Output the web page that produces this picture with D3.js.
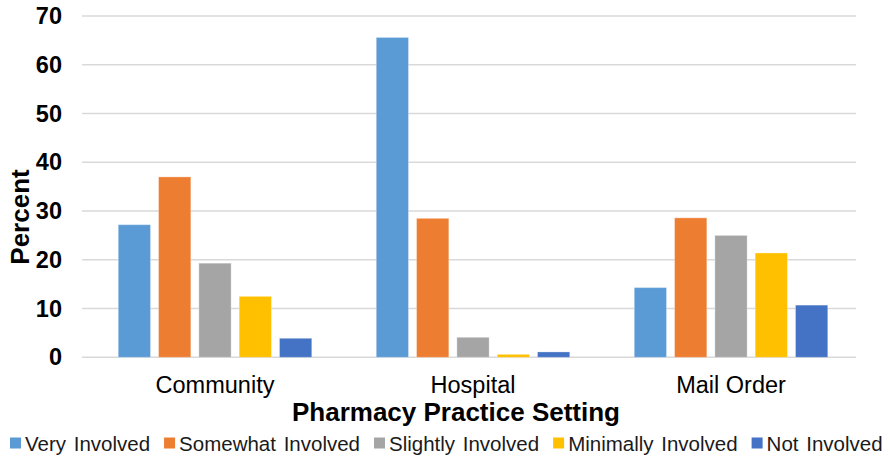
<!DOCTYPE html>
<html>
<head>
<meta charset="utf-8">
<script src="https://cdn.jsdelivr.net/npm/d3@7/dist/d3.min.js"></script>
<style>
  html, body { margin: 0; padding: 0; background: #fff; }
  svg { display: block; font-family: "Liberation Sans", Arial, sans-serif; }
</style>
</head>
<body>
<svg id="chart" width="890" height="457"></svg>
<script>
// Involvement by pharmacy practice setting (percent of respondents)
const categories = ["Community", "Hospital", "Mail Order"];
const series = ["Very Involved", "Somewhat Involved", "Slightly Involved", "Minimally Involved", "Not Involved"];
const colors = ["#5B9BD5", "#ED7D31", "#A5A5A5", "#FFC000", "#4472C4"];
const veryInvolved     = [27.2, 65.6, 14.3];
const somewhatInvolved = [37.0, 28.5, 28.6];
const slightlyInvolved = [19.3, 4.1, 25.0];
const minimallyInvolved = [12.5, 0.6, 21.4];
const notInvolved      = [3.9, 1.1, 10.7];
const yTicks = [0, 10, 20, 30, 40, 50, 60, 70];
const yTitle = "Percent";
const xTitle = "Pharmacy Practice Setting";

const seriesValues = [veryInvolved, somewhatInvolved, slightlyInvolved, minimallyInvolved, notInvolved];
const rows = categories.map((c, i) => ({
  category: c,
  values: series.map((s, j) => ({ key: s, value: seriesValues[j][i], color: colors[j] }))
}));

const svg = d3.select("#chart");
const plotLeft = 86, plotRight = 860, plotTop = 16, plotBottom = 357.3;

const x0 = d3.scaleBand().domain(categories).range([plotLeft, plotRight]);
const x1 = d3.scaleBand().domain(series).range([0, x0.bandwidth()])
  .paddingInner(0.2).paddingOuter(0.8);
const y = d3.scaleLinear().domain([0, 70]).range([plotBottom, plotTop]);

// horizontal gridlines
svg.append("g")
  .selectAll("line")
  .data(yTicks)
  .join("line")
  .attr("x1", plotLeft - 4).attr("x2", plotRight - 4)
  .attr("y1", d => y(d)).attr("y2", d => y(d))
  .attr("stroke", "#d9d9d9")
  .attr("stroke-width", 1.5);

// y axis labels
const yAxis = d3.axisLeft(y).tickValues(yTicks).tickSize(0).tickPadding(0);
const yg = svg.append("g").attr("transform", `translate(${plotLeft - 24},0)`).call(yAxis);
yg.select(".domain").remove();
yg.selectAll("text")
  .attr("font-size", 23.5)
  .attr("font-weight", "bold")
  .attr("fill", "#000")
  .attr("font-family", "'Liberation Sans', Arial, sans-serif");

// bars
const groups = svg.append("g")
  .selectAll("g")
  .data(rows)
  .join("g")
  .attr("transform", d => `translate(${x0(d.category)},0)`);

groups.selectAll("rect")
  .data(d => d.values)
  .join("rect")
  .attr("x", d => x1(d.key))
  .attr("width", x1.bandwidth())
  .attr("y", d => y(d.value))
  .attr("height", d => y(0) - y(d.value))
  .attr("fill", d => d.color)
  .attr("stroke", "rgba(255,255,255,0.3)")
  .attr("stroke-width", 1);

// category labels
const xAxis = d3.axisBottom(x0).tickSize(0).tickPadding(0);
const xg = svg.append("g").attr("transform", `translate(0,${plotBottom + 36})`).call(xAxis);
xg.select(".domain").remove();
xg.selectAll("text")
  .attr("dy", 0)
  .attr("font-size", 23.5)
  .attr("fill", "#000")
  .attr("font-family", "'Liberation Sans', Arial, sans-serif");

// axis titles
svg.append("text")
  .attr("x", 456).attr("y", 420.5)
  .attr("text-anchor", "middle")
  .attr("font-size", 26)
  .attr("font-weight", "bold")
  .attr("fill", "#000")
  .text(xTitle);

svg.append("text")
  .attr("transform", "translate(29,217) rotate(-90)")
  .attr("text-anchor", "middle")
  .attr("font-size", 26)
  .attr("font-weight", "bold")
  .attr("fill", "#000")
  .text(yTitle);

// legend
const legend = svg.append("g").attr("transform", "translate(10,0)");
let lx = 0;
series.forEach((s, i) => {
  const g = legend.append("g").attr("transform", `translate(${lx},0)`);
  g.append("rect")
    .attr("x", 0).attr("y", 437.5)
    .attr("width", 11).attr("height", 11)
    .attr("fill", colors[i]);
  const t = g.append("text")
    .attr("x", 15).attr("y", 450.5)
    .attr("font-size", 20.5)
    .attr("word-spacing", 2)
    .attr("fill", "#1a1a1a")
    .text(s);
  lx += 15 + t.node().getComputedTextLength() + 2 + 12;
});
</script>
</body>
</html>
